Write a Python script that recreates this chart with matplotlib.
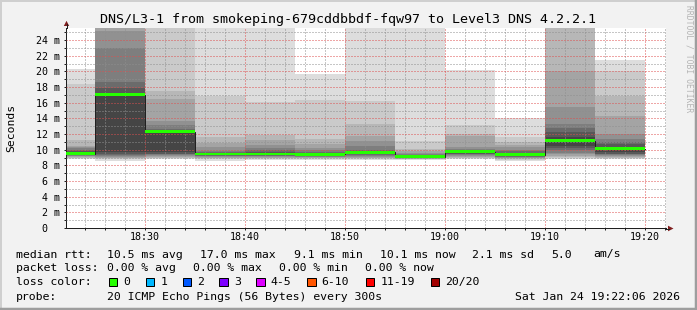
import matplotlib
matplotlib.use("Agg")
import matplotlib.pyplot as plt
from matplotlib.patches import Polygon, Rectangle

W, H, DPI = 697, 310, 100
PX = 72 / DPI  # points per pixel
MONO = "DejaVu Sans Mono"


def hm(s):
    h, m = s.split(":")
    return int(h) * 60 + int(m)


# ---- data: 5 minute bins, 20 sorted ping rtts (ms) per bin, median per bin
bin_starts = ["18:20", "18:25", "18:30", "18:35", "18:40", "18:45",
              "18:50", "18:55", "19:00", "19:05", "19:10", "19:15"]
median_ms = [9.5, 17.0, 12.3, 9.45, 9.45, 9.4, 9.65, 9.1, 9.75, 9.36, 11.15, 10.15]

pings_1820 = [8.8, 8.9, 9.0, 9.1, 9.2, 9.25, 9.3, 9.35, 9.4, 9.45,
              9.55, 9.65, 9.8, 10.0, 10.2, 10.4, 10.5, 11.2, 18.4, 20.3]
pings_1825 = [8.6, 8.8, 8.9, 9.0, 9.1, 9.2, 9.35, 9.5, 9.7, 16.95,
              17.05, 17.1, 17.85, 18.7, 22.95, 25.1, 26.5, 28.0, 30.0, 34.0]
pings_1830 = [8.8, 8.9, 9.0, 9.1, 9.2, 9.3, 9.4, 9.5, 9.7, 12.25,
              12.35, 12.4, 12.45, 12.7, 13.1, 13.7, 16.5, 17.5, 26.5, 28.0]
pings_1835 = [8.6, 8.8, 8.9, 9.0, 9.1, 9.15, 9.2, 9.3, 9.35, 9.4,
              9.5, 9.55, 9.6, 9.7, 9.8, 10.3, 10.9, 11.6, 16.9, 26.5]
pings_1840 = [8.7, 8.8, 8.9, 9.0, 9.1, 9.15, 9.2, 9.3, 9.35, 9.4,
              9.5, 9.6, 9.7, 9.9, 10.2, 10.6, 11.2, 11.9, 16.05, 26.5]
pings_1845 = [8.7, 8.8, 8.9, 9.0, 9.05, 9.1, 9.15, 9.2, 9.3, 9.35,
              9.45, 9.5, 9.6, 9.7, 9.9, 10.2, 10.7, 11.4, 16.3, 19.7]
pings_1850 = [8.7, 8.8, 8.9, 9.0, 9.1, 9.2, 9.3, 9.4, 9.5, 9.6,
              9.7, 9.75, 9.85, 9.96, 10.5, 11.15, 11.8, 13.3, 16.2, 26.5]
pings_1855 = [8.7, 8.75, 8.8, 8.85, 8.9, 8.95, 9.0, 9.05, 9.05, 9.08,
              9.12, 9.2, 9.25, 9.35, 9.45, 9.6, 9.8, 10.1, 11.07, 26.5]
pings_1900 = [8.8, 8.9, 9.0, 9.1, 9.2, 9.3, 9.4, 9.5, 9.6, 9.7,
              9.8, 9.85, 9.9, 9.95, 10.1, 10.3, 11.8, 12.0, 13.2, 20.2]
pings_1905 = [8.6, 8.7, 8.8, 8.9, 9.0, 9.05, 9.1, 9.2, 9.25, 9.32,
              9.4, 9.5, 9.6, 9.8, 10.0, 10.3, 10.6, 11.0, 11.6, 14.0]
pings_1910 = [8.8, 9.0, 9.1, 9.2, 9.4, 9.6, 9.9, 10.2, 10.5, 11.1,
              11.2, 11.6, 12.2, 12.8, 13.3, 15.5, 20.1, 26.5, 28.0, 30.0]
pings_1915 = [8.8, 8.9, 9.0, 9.1, 9.2, 9.3, 9.4, 9.5, 9.7, 10.1,
              10.2, 10.4, 10.7, 11.0, 11.4, 12.0, 14.3, 16.9, 20.1, 21.45]

pings = [pings_1820, pings_1825, pings_1830, pings_1835, pings_1840, pings_1845,
         pings_1850, pings_1855, pings_1900, pings_1905, pings_1910, pings_1915]

y_ticks = list(range(0, 25, 2))
y_labels = [" 0" if v == 0 else f"{v:2d} m" for v in y_ticks]
x_major = ["18:30", "18:40", "18:50", "19:00", "19:10", "19:20"]

legend_rows = [
    ("median rtt:", [("10.5 ms avg", 107), ("17.0 ms max", 200), ("9.1 ms min", 293.5),
                     ("10.1 ms now", 379.5), ("2.1 ms sd", 472.5), ("5.0", 551), ("am/s", 593.5)]),
    ("packet loss:", [("0.00 % avg", 107.3), ("0.00 % max", 193.3), ("0.00 % min", 279.3),
                      ("0.00 % now", 365)]),
]
loss_labels = ["0", "1", "2", "3", "4-5", "6-10", "11-19", "20/20"]
loss_colors = ["#26ff00", "#00b8ff", "#0059ff", "#7e00ff", "#dd00ff", "#ff5500", "#ff0000", "#a10000"]
loss_box_x = [108.7, 145.7, 182.7, 219.3, 256, 307, 365.7, 430.7]

# smokeping shades, outer ping pair -> inner ping pair
SMOKE_GRAYS = [221, 202, 183, 164, 145, 126, 107, 88, 69, 50]

fig = plt.figure(figsize=(W / DPI, H / DPI), dpi=DPI, facecolor="#f2f2f2")
ax = fig.add_axes([66 / W, (H - 228) / H, 600 / W, 200 / H])
ax.set_facecolor("white")

xs = [hm(s) for s in bin_starts]
for k, g in enumerate(SMOKE_GRAYS):
    lo = [p[k] for p in pings]
    hi = [p[19 - k] for p in pings]
    ax.bar(xs, [h - l for h, l in zip(hi, lo)], bottom=lo, width=5, align="edge",
           color=(g / 255,) * 3, linewidth=0, zorder=1)

edges = xs + [xs[-1] + 5]
ax.step(edges, median_ms + [median_ms[-1]], where="post", color="#202020",
        lw=1.0 * PX, zorder=3)
sw = 0.36
ax.bar(xs, [sw] * len(xs), bottom=[m - sw / 2 for m in median_ms], width=5,
       align="edge", color=loss_colors[0], linewidth=0, zorder=4)

ax.set_xlim(hm("18:22") + 0.1, hm("19:22") + 0.1)
ax.set_ylim(0, 200 / 7.83)

ax.set_yticks(y_ticks)
ax.set_yticklabels(y_labels, family=MONO, fontsize=7.2)
ax.set_yticks(range(1, 26, 2), minor=True)
ax.set_xticks([hm(s) for s in x_major])
ax.set_xticklabels(x_major, family=MONO, fontsize=7.2)
ax.set_xticks([t for t in range(hm("18:24"), hm("19:22") + 1, 2) if t % 10], minor=True)

dots = (0, (1, 2))
ax.grid(which="major", color=(0.87, 0.31, 0.31, 0.5), ls=dots, lw=PX)
ax.grid(which="minor", color=(0.56, 0.56, 0.56, 0.55), ls=dots, lw=PX)
ax.set_axisbelow(False)

ax.tick_params(which="both", length=2 * PX, width=PX, color="#1f1f1f")
ax.tick_params(axis="y", which="major", pad=(66 - 2 - 36) * PX)
ax.tick_params(axis="x", which="major", pad=2.5 * PX)
for lab in ax.get_yticklabels():
    lab.set_horizontalalignment("left")

for s in ("top", "right"):
    ax.spines[s].set_visible(False)
for s in ("left", "bottom"):
    ax.spines[s].set_color("#1f1f1f")
    ax.spines[s].set_linewidth(PX)

# ---- overlay in pixel coordinates: frame, arrows, titles, legend
ov = fig.add_axes([0, 0, 1, 1], zorder=5)
ov.set_xlim(0, W)
ov.set_ylim(H, 0)
ov.axis("off")
ov.patch.set_alpha(0)

ov.plot([0, W], [1, 1], color="#cfcfcf", lw=2 * PX)
ov.plot([1, 1], [0, H], color="#cfcfcf", lw=2 * PX)
ov.plot([0, W], [H - 1.2, H - 1.2], color="#9e9e9e", lw=2.5 * PX)
ov.plot([W - 1.2, W - 1.2], [0, H], color="#9e9e9e", lw=2.5 * PX)

ov.plot([66.5, 66.5], [28, 24], color="#1f1f1f", lw=PX)
ov.plot([666, 669], [228.5, 228.5], color="#1f1f1f", lw=PX)
ov.add_patch(Polygon([(63.8, 26), (69.2, 26), (66.5, 20.8)], closed=True,
                     color="#801f1f", lw=0))
ov.add_patch(Polygon([(668, 225.7), (668, 231.3), (673.5, 228.5)], closed=True,
                     color="#801f1f", lw=0))

ov.text(348, 19.5, "DNS/L3-1 from smokeping-679cddbbdf-fqw97 to Level3 DNS 4.2.2.1",
        family=MONO, fontsize=9.6, ha="center", va="center")
ov.text(11, 128, "Seconds", family=MONO, fontsize=8.2, rotation=90,
        ha="center", va="center")
ov.text(688.5, 59, "RRDTOOL / TOBI OETIKER", family=MONO, fontsize=5.8,
        rotation=-90, ha="center", va="center", color="#b4b4b4")

FS = 8.25
row_y = [254.5, 268.3, 282.0, 296.8]
for (head, items), y in zip(legend_rows, row_y):
    ov.text(16, y, head, family=MONO, fontsize=FS, va="center")
    for txt, x in items:
        ov.text(x, y, txt, family=MONO, fontsize=FS, va="center")

ov.text(16, row_y[2], "loss color:", family=MONO, fontsize=FS, va="center")
for lab, col, bx in zip(loss_labels, loss_colors, loss_box_x):
    ov.add_patch(Rectangle((bx, row_y[2] - 4.5), 8.5, 8.5, facecolor=col,
                           edgecolor="black", lw=PX))
    ov.text(bx + 14.6, row_y[2], lab, family=MONO, fontsize=FS, va="center")

ov.text(16, row_y[3], "probe:", family=MONO, fontsize=FS, va="center")
ov.text(107.3, row_y[3], "20 ICMP Echo Pings (56 Bytes) every 300s",
        family=MONO, fontsize=FS, va="center")
ov.text(680, row_y[3], "Sat Jan 24 19:22:06 2026", family=MONO, fontsize=FS,
        va="center", ha="right")

fig.savefig("out.png", dpi=DPI, facecolor=fig.get_facecolor())
